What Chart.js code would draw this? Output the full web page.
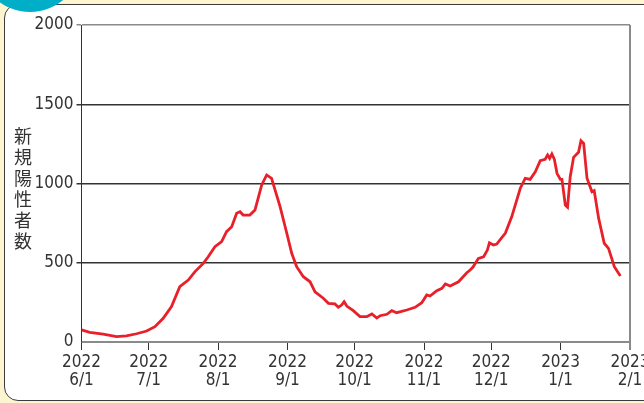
<!DOCTYPE html>
<html>
<head>
<meta charset="utf-8">
<script src="https://cdn.jsdelivr.net/npm/chart.js@4"></script>
<style>
html, body { margin: 0; padding: 0; }
body { width: 644px; height: 403px; background: #fcf5cf; position: relative; overflow: hidden; }
#panel { position: absolute; left: 4px; top: 4px; width: 700px; height: 395px; border: 1.5px solid #3c3c3c; border-radius: 14px; background: #fff; }
#dot { position: absolute; left: -22px; top: -92px; width: 104px; height: 104px; border-radius: 50%; background: #00aec8; }
canvas { position: absolute; left: 0; top: 0; }
</style>
</head>
<body>
<div id="panel"></div>
<div id="dot"></div>
<canvas id="chart" width="644" height="403"></canvas>
<script>
// 日数は 2022/6/1 からの経過日
const days = [0, 3.7, 9.7, 15.6, 20.1, 24.6, 29.1, 32.8, 36.5, 40.2, 43.9, 47.7, 50.7, 54.4, 56.6, 59.6,
    62.6, 64.8, 67.1, 69.3, 70.8, 72.2, 75.2, 77.5, 80.5, 82.7, 84.9, 88.7, 91.7, 93.9, 96.1, 99.1,
    102.1, 104.3, 108.0, 110.3, 113.2, 114.7, 116.2, 117.3, 118.5, 121.4, 124.4, 127.4, 129.7, 131.9,
    133.4, 136.4, 138.6, 140.8, 145.3, 149.0, 152.0, 154.2, 155.7, 158.7, 161.0, 162.5, 164.7, 168.4,
    172.1, 173.6, 174.8, 177.3, 179.6, 181.3, 182.2, 184.0, 185.5, 187.8, 189.3, 192.2, 196.0, 198.2,
    200.4, 202.7, 204.9, 207.1, 208.2, 209.1, 210.1, 211.2, 212.4, 213.9, 214.6, 216.1, 217.1, 218.3,
    219.8, 222.0, 223.1, 224.3, 225.8, 228.0, 229.0, 231.0, 233.5, 235.4, 238.0, 240.7];
const cases = [76, 61, 49, 34, 38, 52, 69, 97, 150, 223, 349, 391, 444, 496, 538, 601,
    633, 696, 727, 812, 822, 801, 801, 833, 991, 1054, 1033, 854, 686, 560, 475, 412,
    380, 317, 276, 244, 240, 219, 233, 254, 227, 198, 160, 160, 177, 151,
    166, 175, 198, 185, 202, 219, 248, 297, 290, 324, 339, 366, 353, 380,
    437, 454, 471, 528, 538, 580, 626, 612, 618, 660, 686, 791, 970, 1033,
    1026, 1074, 1144, 1153, 1180, 1159, 1186, 1153, 1064, 1026, 1026, 864, 850, 1043,
    1165, 1197, 1270, 1253, 1033, 948, 955, 780, 623, 591, 475, 416];

const tickDays = [0, 30, 61, 92, 122, 153, 183, 214, 245];
const tickYears = ['2022', '2022', '2022', '2022', '2022', '2022', '2022', '2023', '2023'];
const tickDates = ['6/1', '7/1', '8/1', '9/1', '10/1', '11/1', '12/1', '1/1', '2/1'];
const yTitle = '新規陽性者数';

const labelFont = { family: '"Liberation Sans Narrow", "DejaVu Sans Condensed", sans-serif', size: 17 };

// 右枠と縦書きの軸タイトル
const marco = {
    id: 'marco',
    afterDraw(chart) {
        const { ctx, chartArea: a } = chart;
        ctx.save();
        ctx.strokeStyle = '#8a8a8a';
        ctx.lineWidth = 2;
        ctx.beginPath();
        ctx.moveTo(a.right, a.top);
        ctx.lineTo(a.right, a.bottom + 8);
        ctx.stroke();
        ctx.fillStyle = '#333';
        ctx.font = '18px "Noto Sans CJK JP"';
        ctx.textAlign = 'center';
        ctx.textBaseline = 'middle';
        [...yTitle].forEach((ch, i) => ctx.fillText(ch, 23, 136 + i * 21));
        ctx.restore();
    }
};

new Chart(document.getElementById('chart'), {
    type: 'line',
    data: {
        datasets: [{
            data: days.map((d, i) => ({ x: d, y: cases[i] })),
            borderColor: '#e8202a',
            borderWidth: 2.8,
            pointRadius: 0,
            tension: 0
        }]
    },
    options: {
        responsive: false,
        animation: false,
        layout: { padding: { top: 25, right: 14, bottom: 0, left: 0 } },
        plugins: { legend: { display: false }, tooltip: { enabled: false } },
        scales: {
            x: {
                type: 'linear',
                min: 0,
                max: 245,
                afterBuildTicks: s => { s.ticks = tickDays.map(v => ({ value: v })); },
                afterFit: s => { s.height = 61; s.paddingLeft = 0; s.paddingRight = 0; },
                border: { color: '#8a8a8a', width: 2 },
                grid: { drawOnChartArea: false, tickLength: 8, tickColor: '#333', tickWidth: 1 },
                ticks: {
                    color: '#333',
                    font: { ...labelFont, lineHeight: 1.05 },
                    padding: 4,
                    maxRotation: 0,
                    autoSkip: false,
                    callback: v => {
                        const i = tickDays.indexOf(v);
                        return i < 0 ? '' : [tickYears[i], tickDates[i]];
                    }
                }
            },
            y: {
                min: 0,
                max: 2000,
                afterFit: s => { s.width = 81.5; s.paddingTop = 0; s.paddingBottom = 0; },
                border: { color: '#333', width: 1 },
                grid: {
                    color: c => c.tick.value === 0 ? 'rgba(0,0,0,0)' : (c.tick.value === 2000 ? '#8a8a8a' : '#333'),
                    lineWidth: 1.5,
                    tickLength: 5
                },
                ticks: { stepSize: 500, color: '#333', font: labelFont, padding: 3, callback: v => String(v) }
            }
        }
    },
    plugins: [marco]
});
</script>
</body>
</html>
